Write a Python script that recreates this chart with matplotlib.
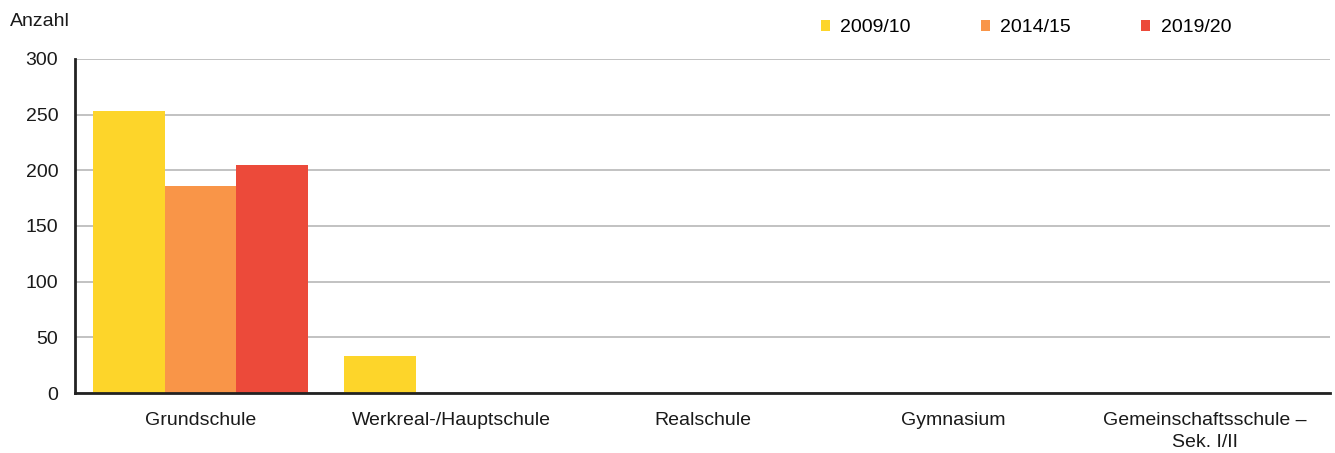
import matplotlib

matplotlib.use("Agg")
import matplotlib.pyplot as plt
import numpy as np

plt.rcParams["font.family"] = ["Liberation Sans", "DejaVu Sans"]

categories = [
    "Grundschule",
    "Werkreal-/Hauptschule",
    "Realschule",
    "Gymnasium",
    "Gemeinschaftsschule –\nSek. I/II",
]
years = ["2009/10", "2014/15", "2019/20"]
values_0910 = [253, 33, 0, 0, 0]
values_1415 = [186, 0, 0, 0, 0]
values_1920 = [205, 0, 0, 0, 0]
yticks = [0, 50, 100, 150, 200, 250, 300]

COLORS = ["#fdd52a", "#f99548", "#ec4a3a"]
FS = 14

fig = plt.figure(figsize=(13.35, 4.53), dpi=100)
ax = fig.add_axes([75 / 1335, 1 - 393 / 453, 1255 / 1335, 334 / 453])

x = np.arange(len(categories))
width = 0.285
series = [values_0910, values_1415, values_1920]
for i, (vals, label, color) in enumerate(zip(series, years, COLORS)):
    ax.bar(x + (i - 1) * width, vals, width, color=color, label=label, zorder=3)

ax.set_xlim(-0.5, len(categories) - 0.5)
ax.set_ylim(0, 300)
ax.set_yticks(yticks)
ax.set_xticks(x, categories, linespacing=1.35)
ax.tick_params(axis="both", labelsize=FS, length=0, colors="#1a1a1a")
ax.tick_params(axis="x", pad=14)
ax.tick_params(axis="y", pad=12)
ax.grid(axis="y", color="#b8b8b8", linewidth=1.2, zorder=0)
for side in ["top", "right"]:
    ax.spines[side].set_visible(False)
for side in ["left", "bottom"]:
    ax.spines[side].set_linewidth(2)
    ax.spines[side].set_color("#222222")
    ax.spines[side].set_zorder(4)

fig.text(10 / 1335, 1 - 22 / 453, "Anzahl", fontsize=FS, va="center", color="#1a1a1a")

ax.legend(
    loc="center",
    bbox_to_anchor=(1026 / 1335, 1 - 28 / 453),
    bbox_transform=fig.transFigure,
    ncols=3,
    frameon=False,
    fontsize=FS,
    handlelength=0.45,
    handleheight=0.45,
    handletextpad=0.55,
    columnspacing=3.6,
)

fig.savefig("out.png", dpi=100)
